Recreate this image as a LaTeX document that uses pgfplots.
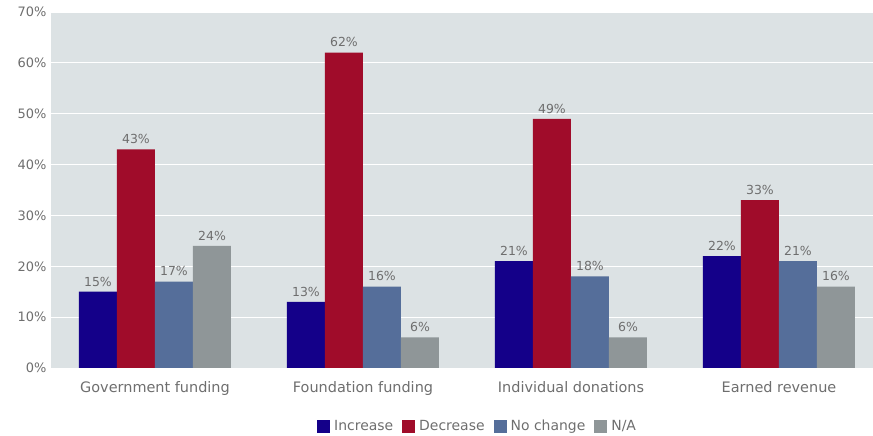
\documentclass[border=0pt]{standalone}
\usepackage{fontspec}
\setmainfont{DejaVu Sans}
\usepackage{pgfplots}
\pgfplotsset{compat=1.18}
\definecolor{bgcol}{HTML}{DCE2E4}
\definecolor{cInc}{HTML}{140089}
\definecolor{cDec}{HTML}{A00C2A}
\definecolor{cNoc}{HTML}{556E9A}
\definecolor{cNA}{HTML}{8F9698}
\definecolor{txt}{HTML}{6E6E6E}
\begin{document}
\begin{tikzpicture}
\useasboundingbox (0,0) rectangle (873bp,436bp);
\begin{axis}[
  at={(51bp,68bp)}, anchor=south west,
  scale only axis, width=822bp, height=356bp,
  ybar=0pt, bar width=38bp,
  xmin=-0.5, xmax=3.452, ymin=0, ymax=70,
  xtick={0,1,2,3},
  xticklabels={Government funding, Foundation funding, Individual donations, Earned revenue},
  ytick={0,10,...,70},
  yticklabel={\pgfmathprintnumber{\tick}\%},
  /pgf/number format/assume math mode=true,
  tick style={draw=none},
  axis line style={draw=none},
  ymajorgrids, grid style={white, line width=1bp},
  axis background/.style={fill=bgcol},
  yticklabel style={font=\fontsize{13}{15}\selectfont, text=txt, xshift=-1bp},
  xticklabel style={font=\fontsize{14.5}{16}\selectfont, text=txt, yshift=-6bp},
  nodes near coords={\pgfmathprintnumber{\pgfplotspointmeta}\%},
  nodes near coords style={font=\fontsize{12.5}{14}\selectfont, text=txt, anchor=south, yshift=2bp},
  legend style={at={(0.519,-0.135)}, anchor=north, draw=none, fill=none,
    font=\fontsize{14}{16}\selectfont, text=txt, legend columns=4,
    /tikz/every even column/.append style={column sep=7bp}},
  legend image code/.code={\fill[#1] (0bp,-6.5bp) rectangle (13bp,6.5bp); \path (15bp,0bp);},
  legend cell align=left,
]
\addplot[fill=cInc, draw=none] coordinates {(0,15) (1,13) (2,21) (3,22)};
\addplot[fill=cDec, draw=none] coordinates {(0,43) (1,62) (2,49) (3,33)};
\addplot[fill=cNoc, draw=none] coordinates {(0,17) (1,16) (2,18) (3,21)};
\addplot[fill=cNA, draw=none] coordinates {(0,24) (1,6) (2,6) (3,16)};
\legend{Increase, Decrease, No change, N/A}
\end{axis}
\end{tikzpicture}
\end{document}
